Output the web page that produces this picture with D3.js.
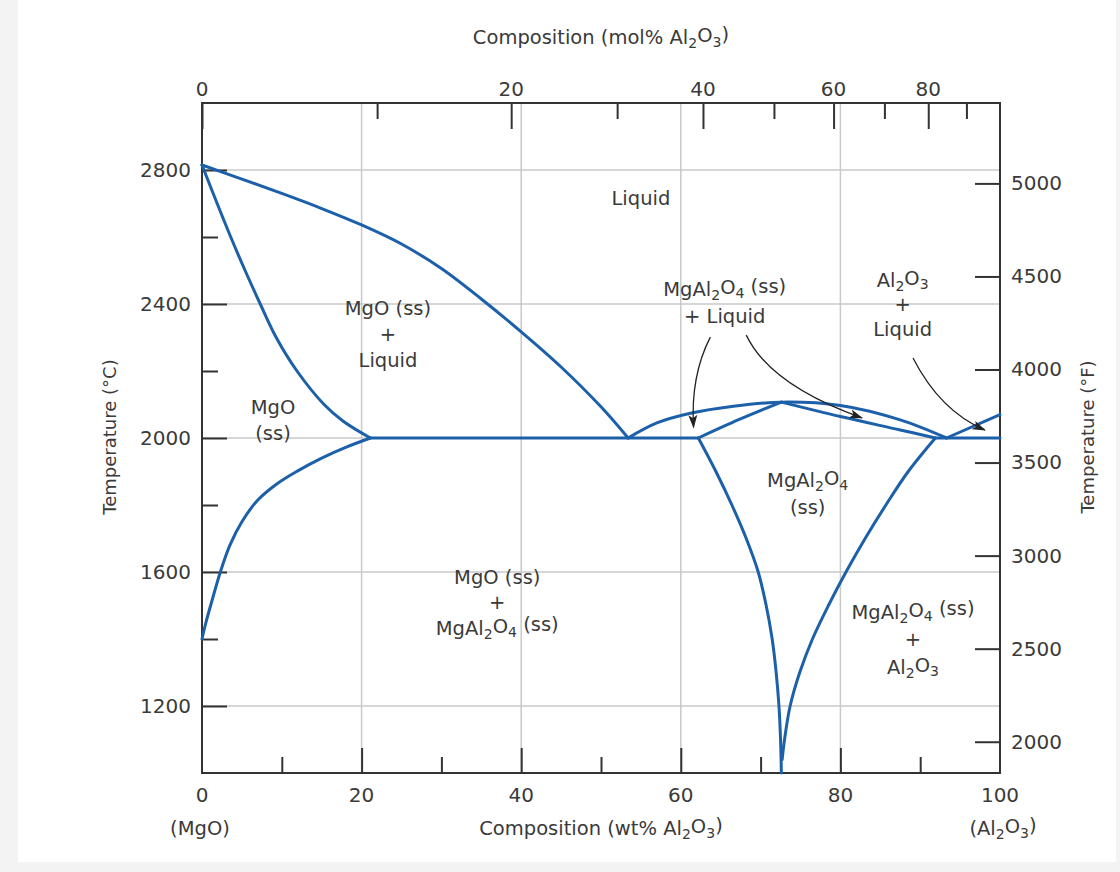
<!DOCTYPE html>
<html>
<head>
<meta charset="utf-8">
<script src="https://cdn.jsdelivr.net/npm/d3@7/dist/d3.min.js"></script>
<style>
  html,body{margin:0;padding:0;background:#f3f3f3;}
  svg{display:block;}
</style>
</head>
<body>
<svg id="chart" width="1120" height="872"></svg>
<script>
// ---------------- DATA (wt% Al2O3, temperature °C) ----------------
const liquidusMgO   = [[0,2815],[5,2773],[10,2730],[15,2685],[20,2636],[25,2579],[30,2506],[35,2415],[40,2317],[45,2212],[50,2093],[53.4,2000]];
const solidusMgO    = [[0,2815],[1.9,2700],[3.6,2600],[5.4,2500],[7.3,2400],[9.3,2300],[11.9,2200],[15.3,2100],[17.7,2050],[21.1,2000]];
const solvusMgO     = [[0,1400],[0.5,1450],[1.2,1510],[2.3,1600],[3.5,1680],[5,1750],[7,1815],[9.5,1865],[12,1902],[15,1940],[18,1972],[21.1,2000]];
const eutecticLeft  = [[21.1,2000],[62.2,2000]];
const eutecticRight = [[91.9,2000],[100,2000]];
const spinelLiquidus= [[53.4,2000],[57,2045],[61.2,2074],[66.6,2095],[72.6,2107],[80,2097],[87.5,2054],[93.3,2000]];
const spinelSolidusL= [[62.2,2000],[67.4,2056],[72.6,2107]];
const spinelSolidusR= [[72.6,2107],[80,2064],[87.5,2024],[91.9,2000]];
const al2o3Liquidus = [[93.3,2000],[100,2070]];
const spinelSolvusL = [[62.2,2000],[64.4,1900],[66.4,1800],[68.2,1700],[69.7,1600],[70.7,1500],[71.45,1400],[71.95,1300],[72.3,1200],[72.5,1100],[72.6,1000]];
const spinelSolvusR = [[91.9,2000],[88.5,1900],[85.7,1800],[83.1,1700],[80.7,1600],[78.5,1500],[76.5,1400],[74.9,1300],[73.7,1200],[73.0,1100],[72.7,1040]];

// axis ticks
const tempMajor = [1200,1600,2000,2400,2800];
const tempMinor = [1400,1800,2200,2600];
const wtMajor   = [20,40,60,80];
const wtLabels  = [0,20,40,60,80,100];
const wtMinor   = [10,30,50,70,90];
const molMajor  = [0,20,40,60,80];
const molMinor  = [10,30,50,70,90];
const fahrTicks = [2000,2500,3000,3500,4000,4500,5000];

// region labels: [wt%, °C, lines, line spacing]
const regionLabels = [
  [55.0, 2716, ["Liquid"], 26],
  [23.3, 2312, ["MgO (ss)","+","Liquid"], 26],
  [8.9,  2054, ["MgO","(ss)"], 26.5],
  [65.5, 2405, ["MgAl_2O_4 (ss)","+ Liquid"], 27],
  [87.8, 2400, ["Al_2O_3","+","Liquid"], 24.5],
  [75.9, 1834, ["MgAl_2O_4","(ss)"], 27],
  [37.0, 1510, ["MgO (ss)","+","MgAl_2O_4 (ss)"], 25.5],
  [89.1, 1400, ["MgAl_2O_4 (ss)","+","Al_2O_3"], 27.5]
];
// annotation arrows: start, control, end (wt%, °C)
const arrows = [
  [[63.7,2301],[61.2,2185],[61.6,2032]],
  [[68.2,2307],[71.2,2158],[82.7,2060]],
  [[89.1,2239],[92.5,2081],[98.1,2024]]
];

// ---------------- DRAW ----------------
const svg = d3.select("#chart");
const FONT = "'DejaVu Sans', sans-serif";
const TXT = "#3a3a3a";
const BLUE = "#1d60aa";
const x = d3.scaleLinear().domain([0,100]).range([202,1000]);
const y = d3.scaleLinear().domain([1000,3000]).range([773,103]);
const molToWt = m => { const a = m*101.96, b = (100-m)*40.30; return 100*a/(a+b); };
const fToC = f => (f-32)*5/9;

svg.append("rect").attr("x",0).attr("y",0).attr("width",1120).attr("height",872).attr("fill","#f3f3f3");
svg.append("rect").attr("x",18).attr("y",0).attr("width",1098).attr("height",862).attr("fill","#ffffff");

// grid
const grid = svg.append("g").attr("stroke","#c9c9c9").attr("stroke-width",1.5);
grid.selectAll("line.h").data(tempMajor).join("line")
  .attr("x1",x(0)).attr("x2",x(100)).attr("y1",d=>y(d)).attr("y2",d=>y(d));
grid.selectAll("line.v").data(wtMajor).join("line")
  .attr("y1",y(1000)).attr("y2",y(3000)).attr("x1",d=>x(d)).attr("x2",d=>x(d));

// rich text helper (underscore = subscript next char)
function rich(sel, str){
  const parts = [];
  let i=0, buf="";
  while(i<str.length){
    if(str[i]==="_" ){ if(buf) parts.push([buf,false]); buf=""; parts.push([str[i+1],true]); i+=2; }
    else { buf+=str[i]; i++; }
  }
  if(buf) parts.push([buf,false]);
  let sub=false;
  parts.forEach(([t,s])=>{
    const ts = sel.append("tspan").text(t);
    if(s && !sub){ ts.attr("dy","0.3em").attr("font-size","0.72em"); sub=true; }
    else if(s){ ts.attr("font-size","0.72em"); }
    else if(!s && sub){ ts.attr("dy","-0.3em"); sub=false; }
  });
}

function styleAxis(g, size){
  g.select(".domain").remove();
  g.selectAll(".tick line").attr("stroke","#333").attr("stroke-width",2);
  g.selectAll(".tick text").attr("font-family",FONT).attr("font-size",size).attr("fill",TXT);
  g.attr("font-family",FONT);
}

// left axis
const gl = svg.append("g").attr("transform",`translate(${x(0)},0)`)
  .call(d3.axisLeft(y).tickValues(tempMajor).tickSize(-25).tickPadding(11).tickFormat(d3.format("d")));
styleAxis(gl,20);
const glm = svg.append("g").attr("transform",`translate(${x(0)},0)`)
  .call(d3.axisLeft(y).tickValues(tempMinor).tickSize(-16).tickFormat(""));
styleAxis(glm,20);

// bottom axis
const gb = svg.append("g").attr("transform",`translate(0,${y(1000)})`)
  .call(d3.axisBottom(x).tickValues(wtMajor).tickSize(-25).tickFormat(""));
styleAxis(gb,20);
const gbm = svg.append("g").attr("transform",`translate(0,${y(1000)})`)
  .call(d3.axisBottom(x).tickValues(wtMinor).tickSize(-16).tickFormat(""));
styleAxis(gbm,20);
svg.append("g").selectAll("text").data(wtLabels).join("text")
  .attr("x",d=>x(d)).attr("y",795).attr("dy","0.36em").attr("text-anchor","middle")
  .attr("font-family",FONT).attr("font-size",20).attr("fill",TXT).text(d=>d);

// top axis (mol%)
const gt = svg.append("g").attr("transform",`translate(0,${y(3000)})`)
  .call(d3.axisTop(x).tickValues(molMajor.map(molToWt)).tickSize(-26).tickFormat(""));
styleAxis(gt,20);
const gtm = svg.append("g").attr("transform",`translate(0,${y(3000)})`)
  .call(d3.axisTop(x).tickValues(molMinor.map(molToWt)).tickSize(-16).tickFormat(""));
styleAxis(gtm,20);
svg.append("g").selectAll("text").data(molMajor).join("text")
  .attr("x",d=>x(molToWt(d))).attr("y",89).attr("dy","0.36em").attr("text-anchor","middle")
  .attr("font-family",FONT).attr("font-size",20).attr("fill",TXT).text(d=>d);

// right axis (°F)
const gr = svg.append("g").attr("transform",`translate(${x(100)},0)`)
  .call(d3.axisRight(y).tickValues(fahrTicks.map(fToC)).tickSize(-25).tickPadding(11)
    .tickFormat((d,i)=>fahrTicks[i]));
styleAxis(gr,20);

// frame
svg.append("rect").attr("x",x(0)).attr("y",y(3000)).attr("width",x(100)-x(0)).attr("height",y(1000)-y(3000))
  .attr("fill","none").attr("stroke","#333").attr("stroke-width",2);

// phase boundaries
const smooth = d3.line().x(d=>x(d[0])).y(d=>y(d[1])).curve(d3.curveCatmullRom.alpha(0.5));
const straight = d3.line().x(d=>x(d[0])).y(d=>y(d[1]));
const curves = [liquidusMgO, solidusMgO, solvusMgO, spinelLiquidus, spinelSolidusL, spinelSolidusR,
                spinelSolvusL, spinelSolvusR];
const lines = [eutecticLeft, eutecticRight, al2o3Liquidus];
const pg = svg.append("g").attr("fill","none").attr("stroke",BLUE).attr("stroke-width",3)
  .attr("stroke-linejoin","round").attr("stroke-linecap","round");
pg.selectAll("path.c").data(curves).join("path").attr("class","c").attr("d",smooth);
pg.selectAll("path.l").data(lines).join("path").attr("class","l").attr("d",straight);

// arrows
svg.append("defs").append("marker").attr("id","ah").attr("viewBox","0 0 12 8")
  .attr("refX",11).attr("refY",4).attr("markerWidth",14).attr("markerHeight",9)
  .attr("markerUnits","userSpaceOnUse").attr("orient","auto")
  .append("path").attr("d","M0,0 L12,4 L0,8 L3,4 Z").attr("fill","#222");
svg.append("g").selectAll("path").data(arrows).join("path")
  .attr("d",d=>`M${x(d[0][0])},${y(d[0][1])} Q${x(d[1][0])},${y(d[1][1])} ${x(d[2][0])},${y(d[2][1])}`)
  .attr("fill","none").attr("stroke","#222").attr("stroke-width",1.3).attr("marker-end","url(#ah)");

// region labels
const rl = svg.append("g").attr("font-family",FONT).attr("font-size",19.5).attr("fill",TXT).attr("text-anchor","middle");
regionLabels.forEach(([wx,t,ls,lh])=>{
  const n = ls.length;
  ls.forEach((s,i)=>{
    const tx = rl.append("text").attr("x",x(wx)).attr("y",y(t)+(i-(n-1)/2)*lh).attr("dy","0.36em");
    rich(tx,s);
  });
});

// axis titles
const tt = svg.append("g").attr("font-family",FONT).attr("fill",TXT).attr("text-anchor","middle");
rich(tt.append("text").attr("x",601).attr("y",37).attr("dy","0.36em").attr("font-size",19.5),"Composition (mol% Al_2O_3)");
rich(tt.append("text").attr("x",601).attr("y",828).attr("dy","0.36em").attr("font-size",19.5),"Composition (wt% Al_2O_3)");
rich(tt.append("text").attr("x",200).attr("y",828).attr("dy","0.36em").attr("font-size",19.5),"(MgO)");
rich(tt.append("text").attr("x",1003).attr("y",828).attr("dy","0.36em").attr("font-size",19.5),"(Al_2O_3)");
tt.append("text").attr("transform","translate(110,437) rotate(-90)").attr("dy","0.36em").attr("font-size",18).text("Temperature (°C)");
tt.append("text").attr("transform","translate(1088,437) rotate(-90)").attr("dy","0.36em").attr("font-size",18).text("Temperature (°F)");
</script>
</body>
</html>
